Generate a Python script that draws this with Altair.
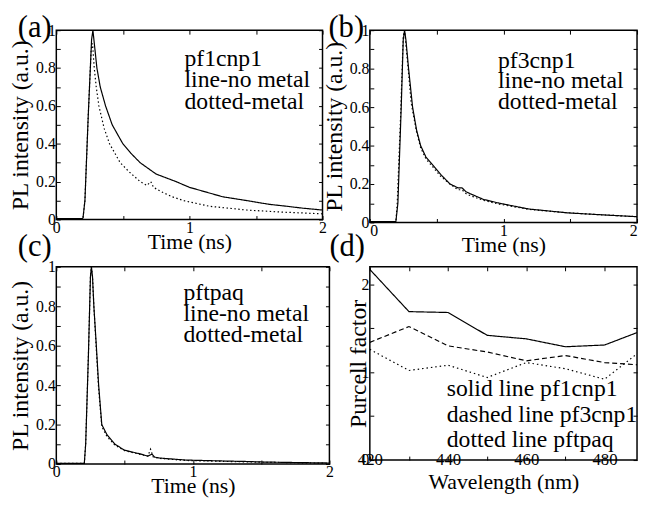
import altair as alt
import pandas as pd

FONT = "Liberation Serif"

# ---------------- data ----------------
# (a) pf1cnp1
a_t_nometal = [0, 0.20, 0.215, 0.24, 0.265, 0.275, 0.29, 0.305, 0.33, 0.37, 0.42, 0.50, 0.56, 0.63, 0.75, 0.90, 1.00, 1.10, 1.25, 1.43, 1.60, 1.73, 1.85, 2.00]
a_i_nometal = [0.005, 0.005, 0.10, 0.55, 0.95, 1.00, 0.90, 0.80, 0.70, 0.60, 0.50, 0.40, 0.35, 0.30, 0.24, 0.20, 0.17, 0.15, 0.12, 0.10, 0.08, 0.07, 0.06, 0.05]
a_t_metal = [0, 0.20, 0.215, 0.24, 0.262, 0.272, 0.285, 0.30, 0.32, 0.36, 0.40, 0.48, 0.55, 0.63, 0.68, 0.71, 0.73, 0.78, 0.87, 0.955, 1.15, 1.43, 1.67, 2.00]
a_i_metal = [0.005, 0.005, 0.10, 0.55, 0.90, 0.93, 0.80, 0.70, 0.60, 0.48, 0.40, 0.30, 0.25, 0.20, 0.18, 0.20, 0.17, 0.15, 0.12, 0.10, 0.07, 0.05, 0.04, 0.03]

# (b) pf3cnp1
b_t_nometal = [0, 0.195, 0.21, 0.235, 0.25, 0.26, 0.27, 0.29, 0.32, 0.35, 0.38, 0.42, 0.47, 0.53, 0.60, 0.66, 0.69, 0.72, 0.75, 0.85, 0.97, 1.19, 1.48, 1.73, 2.00]
b_i_nometal = [0.005, 0.005, 0.10, 0.60, 0.95, 1.00, 0.95, 0.80, 0.60, 0.48, 0.40, 0.34, 0.30, 0.25, 0.20, 0.18, 0.18, 0.16, 0.15, 0.12, 0.10, 0.07, 0.05, 0.04, 0.03]
b_t_metal = [0, 0.195, 0.205, 0.23, 0.25, 0.26, 0.28, 0.31, 0.35, 0.38, 0.42, 0.47, 0.53, 0.60, 0.66, 0.69, 0.72, 0.75, 0.85, 0.97, 1.19, 1.48, 1.73, 2.00]
b_i_metal = [0.005, 0.005, 0.10, 0.55, 0.97, 1.00, 0.85, 0.62, 0.47, 0.39, 0.33, 0.29, 0.24, 0.20, 0.17, 0.17, 0.15, 0.14, 0.115, 0.095, 0.068, 0.05, 0.04, 0.03]

# (c) pftpaq
c_t_nometal = [0, 0.205, 0.215, 0.235, 0.25, 0.257, 0.265, 0.275, 0.293, 0.31, 0.333, 0.37, 0.43, 0.50, 0.62, 0.67, 0.70, 0.72, 0.76, 0.95, 1.24, 1.38, 1.52, 2.00]
c_i_nometal = [0.003, 0.003, 0.10, 0.55, 0.95, 1.00, 0.95, 0.80, 0.60, 0.40, 0.20, 0.15, 0.10, 0.07, 0.05, 0.04, 0.05, 0.035, 0.03, 0.02, 0.015, 0.013, 0.01, 0.005]
c_t_metal = [0, 0.205, 0.215, 0.235, 0.25, 0.257, 0.265, 0.275, 0.293, 0.31, 0.333, 0.37, 0.43, 0.50, 0.62, 0.67, 0.69, 0.71, 0.76, 0.95, 1.24, 1.52, 2.00]
c_i_metal = [0.003, 0.003, 0.10, 0.55, 0.95, 1.00, 0.95, 0.80, 0.58, 0.38, 0.19, 0.14, 0.095, 0.068, 0.048, 0.04, 0.075, 0.035, 0.028, 0.018, 0.013, 0.009, 0.004]

# (d) Purcell factor
d_wavelength = [420, 430, 440, 450, 460, 470, 480, 490]
d_pf1cnp1 = [2.17, 1.69, 1.68, 1.42, 1.38, 1.29, 1.31, 1.48]
d_pf3cnp1 = [1.34, 1.52, 1.30, 1.23, 1.13, 1.19, 1.11, 1.08]
d_pftpaq = [1.26, 1.02, 1.08, 0.94, 1.11, 1.04, 0.92, 1.27]

time_ticks = [0, 0.5, 1, 1.5, 2]
pl_ticks = [0, 0.1, 0.2, 0.3, 0.4, 0.5, 0.6, 0.7, 0.8, 0.9, 1.0]
wl_ticks = [420, 430, 440, 450, 460, 470, 480]
pf_ticks = [0, 0.5, 1, 1.5, 2]

T = 4  # inward tick length
SOLID = [1, 0]
DOTTED = [1.5, 2.5]
DASHED = [5, 3]


def series_df(xs, ys):
    return pd.DataFrame({"x": xs, "y": ys})


def panel(series, xdom, ydom, xvals, xlabexpr, xfmt, yvals, ylabexpr, xtitle, ytitle,
          w, h, tag, tag_xy, note, note_xy, note_lh, note_fs, xlabpad, xtitlepad,
          ytitlepad, xlabfs=16, xlabflush=False, clip_note=False):
    xs = alt.Scale(domain=xdom, nice=False, zero=False)
    ys = alt.Scale(domain=ydom, nice=False, zero=False)
    x_bottom = alt.X("x:Q", scale=xs, axis=alt.Axis(
        orient="bottom", values=xvals, labelExpr=xlabexpr, format=xfmt,
        title=xtitle, offset=-T, tickSize=T, labelPadding=xlabpad,
        titlePadding=xtitlepad, labelFontSize=xlabfs, titleFontSize=22,
        labelFlush=xlabflush))
    y_left = alt.Y("y:Q", scale=ys, axis=alt.Axis(
        orient="left", values=yvals, labelExpr=ylabexpr, format="~g",
        title=ytitle, offset=-T, tickSize=T, labelPadding=1,
        titlePadding=ytitlepad, labelFontSize=16, titleFontSize=24))
    x_top = alt.X("x:Q", scale=xs, axis=alt.Axis(
        orient="top", values=xvals, labels=False, title=None, offset=-T, tickSize=T))
    y_right = alt.Y("y:Q", scale=ys, axis=alt.Axis(
        orient="right", values=yvals, labels=False, title=None, offset=-T, tickSize=T))

    layers = []
    for i, (df, dash) in enumerate(series):
        if i == 0:
            enc = dict(x=x_bottom, y=y_left)
        else:
            enc = dict(x=alt.X("x:Q", scale=xs, axis=None), y=alt.Y("y:Q", scale=ys, axis=None))
        layers.append(alt.Chart(df).mark_line(
            color="black", strokeWidth=1.2, strokeDash=dash, clip=True).encode(**enc))
    layers.append(alt.Chart(series[0][0]).mark_line(strokeOpacity=0, clip=True).encode(
        x=x_top, y=y_right))
    one = pd.DataFrame({"k": [0]})
    layers.append(alt.Chart(one).mark_text(
        text=tag, font=FONT, fontSize=31, align="left", baseline="top", color="black"
    ).encode(x=alt.value(tag_xy[0]), y=alt.value(tag_xy[1])))
    layers.append(alt.Chart(one).mark_text(
        text=note, font=FONT, fontSize=note_fs, lineHeight=note_lh, align="left",
        baseline="alphabetic", color="black", clip=clip_note
    ).encode(x=alt.value(note_xy[0]), y=alt.value(note_xy[1])))
    return alt.layer(*layers).resolve_axis(
        x="independent", y="independent").properties(width=w, height=h)


x_lab = "datum.value % 1 == 0 ? datum.label : ''"
y_lab = "round(datum.value * 10) % 2 == 0 ? datum.label : ''"

pa = panel([(series_df(a_t_nometal, a_i_nometal), SOLID),
            (series_df(a_t_metal, a_i_metal), DOTTED)],
           [0, 2], [0, 1], time_ticks, x_lab, "~g", pl_ticks, y_lab, "Time (ns)",
           "PL intensity (a.u.)", 270, 192,
           "(a)", (-39, -17), ["pf1cnp1", "line-no metal", "dotted-metal"], (130, 36), 22, 24,
           0, -4, 3)
pb = panel([(series_df(b_t_nometal, b_i_nometal), SOLID),
            (series_df(b_t_metal, b_i_metal), DOTTED)],
           [0, 2], [0, 1], time_ticks, x_lab, "~g", pl_ticks, y_lab, "Time (ns)",
           "PL intensity (a.u.)", 271, 195,
           "(b)", (-42, -17), ["pf3cnp1", "line-no metal", "dotted-metal"], (130, 38), 21, 24,
           0, -4, 3, xlabflush=True)
pc = panel([(series_df(c_t_nometal, c_i_nometal), SOLID),
            (series_df(c_t_metal, c_i_metal), DOTTED)],
           [0, 2], [0, 1], time_ticks, x_lab, "~g", pl_ticks, y_lab, "Time (ns)",
           "PL intensity (a.u.)", 277, 200,
           "(c)", (-39, -35), ["pftpaq", "line-no metal", "dotted-metal"], (129, 34), 21, 24,
           0, -4, 3)
pd_ = panel([(series_df(d_wavelength, d_pf1cnp1), SOLID),
             (series_df(d_wavelength, d_pf3cnp1), DASHED),
             (series_df(d_wavelength, d_pftpaq), [1.5, 3])],
            [420, 488.3], [0, 2.2], wl_ticks, "datum.value % 20 == 0 ? datum.label : ''", "d",
            pf_ticks, "datum.value % 1 == 0 ? datum.label : ''", "Wavelength (nm)",
            "Purcell factor", 271, 196,
            "(d)", (-41, -35), ["solid line pf1cnp1", "dashed line pf3cnp1", "dotted line pftpaq"],
            (78, 131), 26, 24, -8, 4, -10, xlabfs=17, clip_note=True)

chart = alt.concat(pa, pb, pc, pd_, columns=2, bounds="flush",
                   spacing=alt.RowColnumber(row=45, column=41)).properties(
    padding=0, background="white"
).configure_view(stroke="black", strokeWidth=1.5).configure_axis(
    labelFont=FONT, titleFont=FONT, labelColor="black", titleColor="black",
    titleFontWeight="normal", tickColor="black", tickWidth=1, grid=False, domain=False
).configure_text(font=FONT)

chart.save("out.html", embed_options={"renderer": "svg", "actions": False})
